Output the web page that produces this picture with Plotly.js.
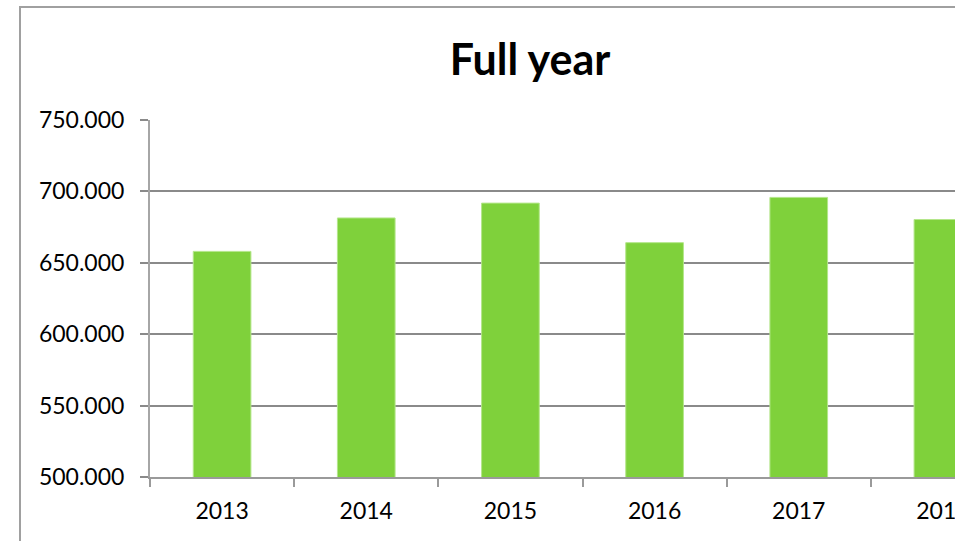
<!DOCTYPE html>
<html>
<head>
<meta charset="utf-8">
<script src="https://cdn.plot.ly/plotly-3.0.1.min.js"></script>
<style>
  html, body { margin: 0; padding: 0; background: #ffffff; overflow: hidden; }
  #clip { position: absolute; left: 0; top: 0; width: 955px; height: 541px; overflow: hidden; background: #ffffff; }
  #chart { position: absolute; left: 0; top: 0; width: 1060px; height: 541px; }
</style>
</head>
<body>
<div id="clip"><div id="chart"></div></div>
<script>
const years = ['2013', '2014', '2015', '2016', '2017', '2018'];
const values = [658000, 681400, 691800, 664100, 695800, 680300];
const yTicks = [500000, 550000, 600000, 650000, 700000, 750000];
const chartTitle = 'Full year';

const W = 1060, H = 541;
const m = { l: 150, r: 45, t: 120, b: 64 };
const pw = W - m.l - m.r, ph = H - m.t - m.b;

const trace = {
  type: 'bar',
  x: years,
  y: values,
  marker: { color: '#7FD13B', line: { color: '#B4E68A', width: 1 } },
  hoverinfo: 'x+y'
};

const layout = {
  width: W, height: H,
  margin: m,
  paper_bgcolor: '#ffffff',
  plot_bgcolor: '#ffffff',
  separators: ',.',
  font: { family: 'Lato, "Open Sans", sans-serif', color: '#000000', size: 23 },
  title: {
    text: '<b>' + chartTitle + '</b>',
    font: { family: 'Lato, "Open Sans", sans-serif', size: 43, color: '#000000' },
    x: 530 / W, xref: 'container', xanchor: 'center',
    y: 1 - 60 / H, yref: 'container', yanchor: 'middle'
  },
  bargap: 0.6,
  showlegend: false,
  xaxis: {
    type: 'category',
    showgrid: false,
    showline: true, linecolor: '#9a9a9a', linewidth: 2,
    ticks: 'outside', tickson: 'boundaries', ticklen: 8, tickcolor: '#9a9a9a', tickwidth: 2,
    tickfont: { size: 23, color: '#000000' },
    ticklabelstandoff: 12,
    zeroline: false
  },
  yaxis: {
    range: [500000, 750000],
    tickvals: yTicks,
    tickformat: ',d',
    showgrid: true, gridcolor: '#8a8a8a', gridwidth: 2,
    showline: true, linecolor: '#a6a6a6', linewidth: 2,
    ticks: 'outside', ticklen: 8, tickcolor: '#8a8a8a', tickwidth: 2,
    tickfont: { size: 23, color: '#000000' },
    ticklabelstandoff: 11,
    zeroline: false
  },
  shapes: [{
    type: 'rect', xref: 'paper', yref: 'paper', layer: 'below',
    x0: (20 - m.l) / pw, x1: 2,
    y0: -1, y1: (H - m.b - 7) / ph,
    line: { color: '#a0a0a0', width: 2 }, fillcolor: 'rgba(0,0,0,0)'
  }]
};

Plotly.newPlot('chart', [trace], layout, { displayModeBar: false, staticPlot: true });
</script>
</body>
</html>
